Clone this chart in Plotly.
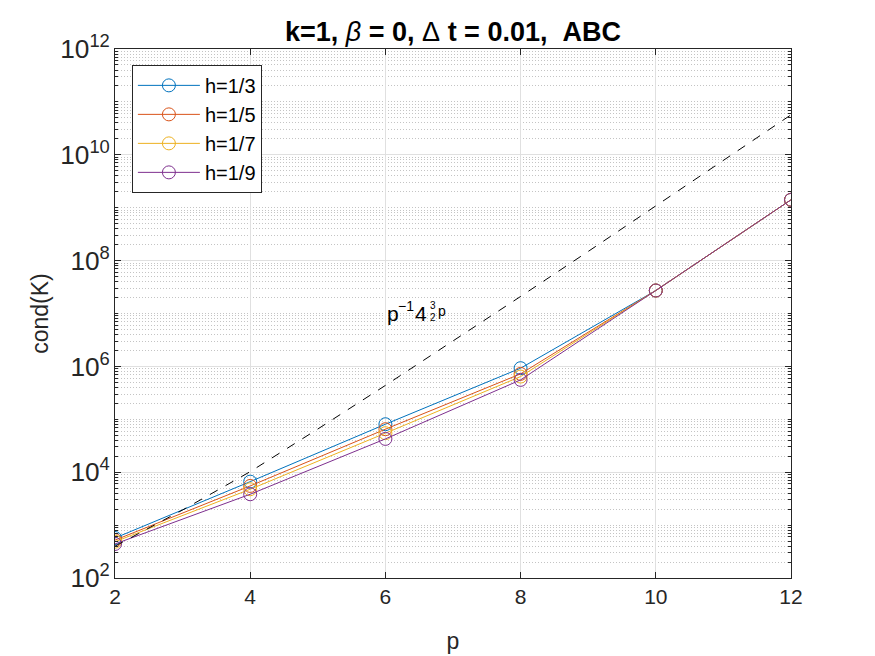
import plotly.graph_objects as go

# values
p = [2, 4, 6, 8, 10, 12]
cond_h3 = [570, 6630, 80700, 925000, 2.72e7, 1.41e9]
cond_h5 = [520, 5500, 65000, 722000, 2.72e7, 1.41e9]
cond_h7 = [485, 4760, 54600, 643000, 2.72e7, 1.41e9]
cond_h9 = [440, 3830, 42600, 556000, 2.72e7, 1.41e9]

# reference slope line p^-1 4^(3/2 p) (scaled), read at integer p
p_ref = [2, 3, 4, 5, 6, 7, 8, 9, 10, 11, 12]
cond_ref = [400, 1930, 10240, 65500, 437000, 3.0e6, 2.10e7, 1.49e8,
            1.07e9, 7.8e9, 5.7e10]

series = [
    ("h=1/3", cond_h3, "#0072BD"),
    ("h=1/5", cond_h5, "#D95319"),
    ("h=1/7", cond_h7, "#EDB120"),
    ("h=1/9", cond_h9, "#7E2F8E"),
]

FONT = "Liberation Sans, Arial, Helvetica, sans-serif"
AX = "#262626"

fig = go.Figure()

for name, vals, col in series:
    fig.add_trace(go.Scatter(
        x=p, y=vals, name=name, mode="lines+markers",
        line=dict(color=col, width=1),
        marker=dict(symbol="circle-open", size=13, color=col,
                    line=dict(width=1, color=col)),
        legendgroup=name,
    ))

fig.add_trace(go.Scatter(
    x=p_ref, y=cond_ref, mode="lines", showlegend=False,
    line=dict(color="black", width=1, dash="dash"),
))

# label of the dashed line: p^-1 4^(3/2 p), built from pieces
label_parts = [
    ("p", 21, 0, 0),
    ("\u22121", 14, 11, 8),
    ("4", 21, 28, 0),
    ("3", 10, 43, 8),
    ("2", 10, 43, -4),
    ("p", 14, 51, 3),
]
for txt, size, dx, dy in label_parts:
    fig.add_annotation(x=6, y=7, xref="x", yref="y", text=txt,
                       showarrow=False, xanchor="left", yanchor="middle",
                       xshift=dx, yshift=dy,
                       font=dict(family=FONT, size=size, color="black"))

# the page body adds an 8px offset, margins are set to compensate
fig.update_layout(
    width=875, height=656,
    margin=dict(l=107, r=92, t=41, b=86),
    paper_bgcolor="white", plot_bgcolor="white",
    font=dict(family=FONT, color=AX),
    title=dict(
        text="<b>k=1, </b><i>\u03b2</i><b> = 0, </b>\u0394<b> t = 0.01, &nbsp;ABC</b>",
        x=0.5, xref="paper", xanchor="center",
        y=1 - 24 / 656, yref="container", yanchor="middle",
        font=dict(family=FONT, size=27, color="black"),
    ),
    showlegend=True,
    legend=dict(
        x=0.025, y=0.97, xanchor="left", yanchor="top",
        bgcolor="white", bordercolor=AX, borderwidth=1,
        font=dict(family=FONT, size=20, color="black"),
        itemwidth=62, tracegroupgap=0,
    ),
)

fig.update_xaxes(
    range=[2, 12], tickvals=[2, 4, 6, 8, 10, 12], automargin=False,
    ticks="inside", ticklen=6, tickcolor=AX,
    showline=True, linecolor=AX, linewidth=1, mirror="ticks",
    showgrid=True, gridcolor="#e0e0e0", gridwidth=1, zeroline=False,
    tickfont=dict(family=FONT, size=21, color=AX),
    title=dict(text="p", standoff=25, font=dict(family=FONT, size=23, color=AX)),
)

fig.update_yaxes(
    type="log", range=[2, 12], dtick=2, exponentformat="power", automargin=False,
    ticks="inside", ticklen=6, tickcolor=AX,
    showline=True, linecolor=AX, linewidth=1, mirror="ticks",
    showgrid=True, gridcolor="#e0e0e0", gridwidth=1, zeroline=False,
    tickfont=dict(family=FONT, size=21, color=AX),
    minor=dict(dtick="D1", ticks="inside", ticklen=3, tickcolor=AX,
               showgrid=True, gridcolor="#c4c4c4", griddash="1px,2px", gridwidth=1),
    title=dict(text="cond(K)", standoff=5, font=dict(family=FONT, size=23, color=AX)),
)

fig.write_html("out.html")
